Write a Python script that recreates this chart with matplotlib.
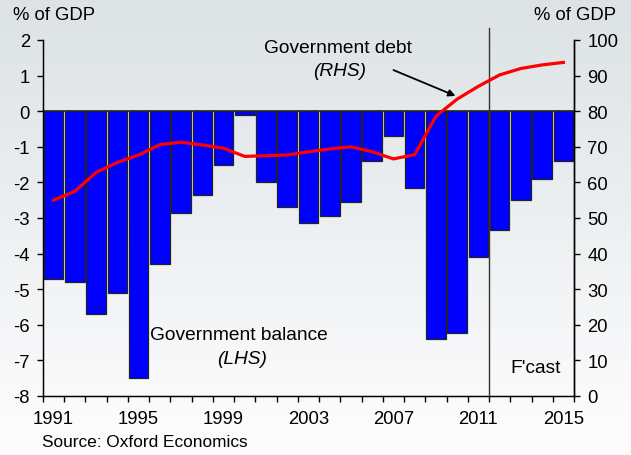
import numpy as np
import matplotlib
matplotlib.use("Agg")
import matplotlib.pyplot as plt
from matplotlib.ticker import FixedLocator

plt.rcParams["font.family"] = ["Liberation Sans", "DejaVu Sans"]
plt.rcParams["axes.unicode_minus"] = False

# Données
annees = list(range(1991, 2016))
solde = [-4.7, -4.8, -5.7, -5.1, -7.5, -4.3, -2.85, -2.35, -1.5, -0.12,
         -2.0, -2.7, -3.15, -2.95, -2.55, -1.4, -0.7, -2.15, -6.4, -6.22,
         -4.1, -3.35, -2.5, -1.9, -1.4]
dette = [55.0, 57.5, 62.8, 65.6, 67.7, 70.6, 71.3, 70.5, 69.6, 67.3,
         67.5, 67.7, 68.6, 69.4, 70.0, 68.6, 66.6, 67.8, 78.6, 83.4,
         87.0, 90.2, 92.0, 93.0, 93.7]
etiquettes_x = [1991, 1995, 1999, 2003, 2007, 2011, 2015]
debut_prevision = 2011.5

fig = plt.figure(figsize=(6.31, 4.56), dpi=100)

# Fond en dégradé
fond = fig.add_axes([0, 0, 1, 1], zorder=-10)
degrade = np.linspace(0, 1, 256).reshape(-1, 1)
couleurs = np.array([[0.863, 0.886, 0.898], [0.985, 0.985, 0.988]])
img = couleurs[0] + (couleurs[1] - couleurs[0]) * np.clip(degrade * 1.1, 0, 1)[:, :, None] * np.ones((1, 1, 3))
fond.imshow(img, aspect="auto", extent=[0, 1, 0, 1], origin="upper")
fond.axis("off")

ax = fig.add_axes([0.0681, 0.1294, 0.8416, 0.7807])
ax.set_facecolor("none")
ax.bar(annees, solde, width=0.92, color="#0000ff", edgecolor="#222222", linewidth=0.9, zorder=2)
ax.axhline(0, color="#222222", linewidth=1.2, zorder=3)
ax.axvline(debut_prevision, ymin=0, ymax=1.034, color="#333333", linewidth=1.0, clip_on=False, zorder=3)

ax.set_xlim(1990.5, 2015.5)
ax.set_ylim(-8, 2)
ax.set_yticks(range(-8, 3))
ax.xaxis.set_major_locator(FixedLocator(etiquettes_x))
ax.xaxis.set_minor_locator(FixedLocator(np.arange(1990.5, 2016, 1)))
ax.tick_params(axis="x", which="major", length=0, pad=10, labelsize=13.3)
ax.tick_params(axis="x", which="minor", length=4.5, width=1, direction="out")
ax.tick_params(axis="y", length=4.5, width=1, pad=5, labelsize=13.3)
ax.spines["top"].set_visible(False)
for s in ["left", "bottom", "right"]:
    ax.spines[s].set_linewidth(1)

ax2 = ax.twinx()
ax2.plot(annees, dette, color="#ff0000", linewidth=2.3, zorder=4)
ax2.set_ylim(0, 100)
ax2.set_yticks(range(0, 101, 10))
ax2.tick_params(axis="y", length=4.5, width=1, pad=5, labelsize=13.3)
ax2.spines["top"].set_visible(False)
ax2.spines["right"].set_linewidth(1)

# Textes
fig.text(13 / 631, 1 - 15 / 456, "% of GDP", fontsize=13.3, va="center", ha="left")
fig.text(616 / 631, 1 - 16 / 456, "% of GDP", fontsize=13.3, va="center", ha="right")
ax.text(2004.37, 1.80, "Government debt", fontsize=13.8, ha="center", va="center")
ax.text(2004.45, 1.14, "(RHS)", fontsize=13.8, style="italic", ha="center", va="center")
ax.text(1999.7, -6.26, "Government balance", fontsize=13.8, ha="center", va="center")
ax.text(1999.85, -6.94, "(LHS)", fontsize=13.8, style="italic", ha="center", va="center")
ax.text(2013.7, -7.2, "F'cast", fontsize=13.8, ha="center", va="center")
ax.annotate("", xy=(2010.04, 0.40), xytext=(2006.88, 1.185),
            arrowprops=dict(arrowstyle="-|>", color="black", lw=1.3, mutation_scale=10))
fig.text(42 / 631, 1 - 443 / 456, "Source: Oxford Economics", fontsize=12.4, va="center", ha="left")

fig.savefig("out.png", dpi=100)
